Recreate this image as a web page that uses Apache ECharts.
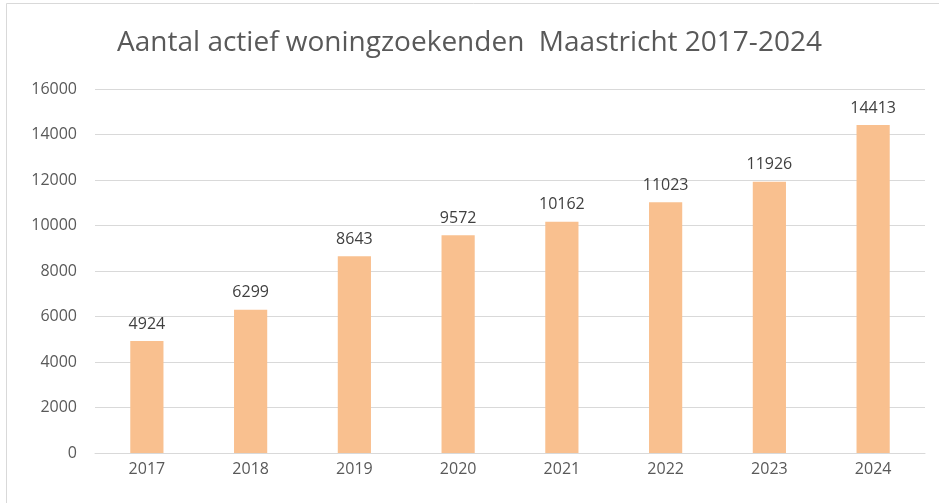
<!DOCTYPE html>
<html>
<head>
<meta charset="utf-8">
<script src="https://cdn.jsdelivr.net/npm/echarts@6/dist/echarts.min.js"></script>
<style>
  html, body { margin: 0; padding: 0; background: #fff; }
  #main { width: 939px; height: 503px; }
</style>
</head>
<body>
<div id="main"></div>
<script>
var years = ['2017', '2018', '2019', '2020', '2021', '2022', '2023', '2024'];
var woningzoekenden = [4924, 6299, 8643, 9572, 10162, 11023, 11926, 14413];
var yMin = 0, yMax = 16000, yStep = 2000;

var myChart = echarts.init(document.getElementById('main'));

var option = {
    backgroundColor: '#fff',
    title: {
        text: 'Aantal actief woningzoekenden  Maastricht 2017-2024',
        left: 'center',
        top: 24,
        textStyle: {
            fontFamily: 'Open Sans',
            fontWeight: 'normal',
            fontSize: 28,
            color: '#595959'
        }
    },
    graphic: [{
        type: 'rect',
        shape: { x: 6.5, y: 3.5, width: 1000, height: 600 },
        style: { fill: 'none', stroke: '#d9d9d9', lineWidth: 1 },
        silent: true
    }],
    grid: {
        left: 95,
        right: 14,
        top: 89,
        bottom: 50
    },
    xAxis: {
        type: 'category',
        data: years,
        axisLine: { lineStyle: { color: '#d9d9d9', width: 1 } },
        axisTick: { show: false },
        axisLabel: {
            margin: 8,
            fontFamily: 'Open Sans',
            fontSize: 16,
            color: '#595959'
        }
    },
    yAxis: {
        type: 'value',
        min: yMin,
        max: yMax,
        interval: yStep,
        axisLine: { show: false },
        axisTick: { show: false },
        splitLine: { lineStyle: { color: '#d9d9d9', width: 1 } },
        axisLabel: {
            margin: 18,
            fontFamily: 'Open Sans',
            fontSize: 16,
            color: '#595959',
            formatter: function (v) { return String(v); }
        }
    },
    series: [{
        type: 'bar',
        data: woningzoekenden,
        barWidth: '32%',
        itemStyle: { color: '#f9c08f' },
        label: {
            show: true,
            position: 'top',
            distance: 9,
            fontFamily: 'Open Sans',
            fontSize: 16,
            color: '#404040'
        }
    }]
};

myChart.setOption(option);
</script>
</body>
</html>
